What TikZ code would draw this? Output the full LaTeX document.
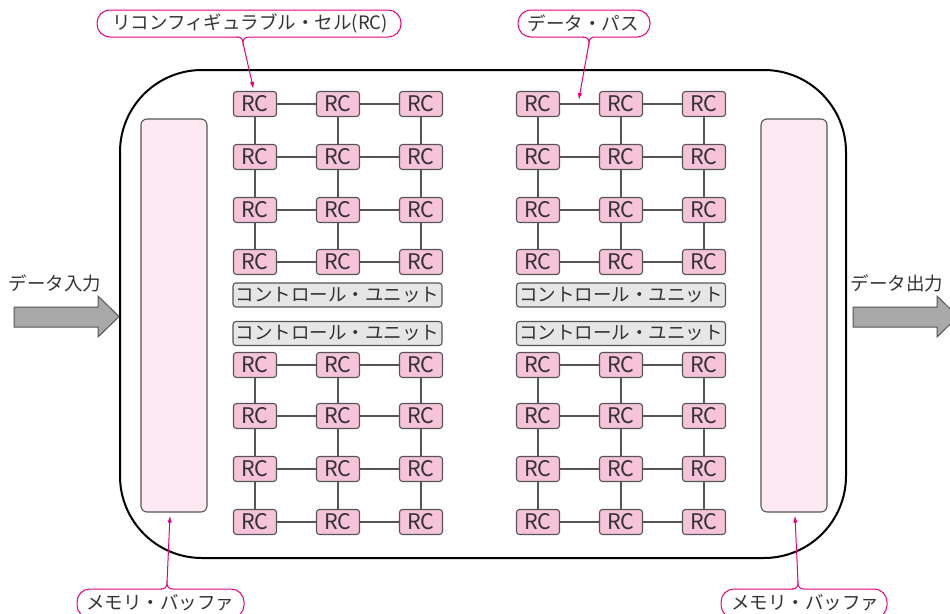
\documentclass[tikz,border=0pt]{standalone}
\usepackage{fontspec}
\setmainfont{Noto Sans CJK JP}
\usetikzlibrary{arrows.meta,calc}
\definecolor{rcfill}{HTML}{F6C3D9}
\definecolor{buffill}{HTML}{FCE9F2}
\definecolor{cufill}{HTML}{E6E6E6}
\definecolor{arrfill}{HTML}{A9A9A9}
\definecolor{edge}{HTML}{555555}
\definecolor{txt}{HTML}{333333}
\definecolor{mag}{HTML}{E5007F}
\begin{document}
\begin{tikzpicture}[x=1pt,y=-1pt,
  rc/.style={draw=edge,fill=rcfill,rounded corners=3pt,line width=1.1pt,minimum width=43pt,minimum height=25pt,inner sep=0pt,font=\fontsize{21.5}{21.5}\selectfont,text=txt},
  cu/.style={draw=edge,fill=cufill,rounded corners=3pt,line width=1.1pt,minimum width=209pt,minimum height=24pt,inner sep=0pt,font=\fontsize{18.5}{18.5}\selectfont,text=txt},
  buf/.style={draw=edge,fill=buffill,rounded corners=6pt,line width=1.1pt,minimum width=66pt,minimum height=393pt,inner sep=0pt},
  link/.style={draw=edge,line width=1.1pt},
  lbl/.style={font=\fontsize{18.5}{18.5}\selectfont,text=txt,inner sep=0pt},
  callbox/.style={draw=mag,line width=1pt,rounded corners=13pt},
  notch/.style={draw=mag,line width=1pt},
  pointer/.style={draw=mag,line width=1pt,-{Latex[length=7pt,width=4.5pt]}},
  bigarrow/.style={draw=edge,fill=arrfill,line width=1pt}
]
\useasboundingbox (0,0) rectangle (950,613);
\begin{scope}
\clip (0,0) rectangle (950,613);
% main frame
\draw[line width=2pt,rounded corners=82pt] (120,70) rectangle (846,558);
% memory buffers
\node[buf] (MB1) at (174,315.5) {};
\node[buf] (MB2) at (794,315.5) {};
% RC grids
\foreach \c/\x in {1/255,2/338,3/421}{
  \foreach \r/\y in {1/104,2/157,3/210,4/262,5/365,6/416,7/469,8/522}{
    \node[rc] (L\r\c) at (\x,\y) {RC};
  }}
\foreach \c/\x in {1/538,2/621,3/704}{
  \foreach \r/\y in {1/104,2/157,3/210,4/262,5/365,6/416,7/469,8/522}{
    \node[rc] (R\r\c) at (\x,\y) {RC};
  }}
\foreach \g in {L,R}{
  \foreach \r in {1,...,8}{
    \draw[link] (\g\r1) -- (\g\r2) -- (\g\r3);
  }
  \foreach \c in {1,2,3}{
    \draw[link] (\g1\c) -- (\g2\c) -- (\g3\c) -- (\g4\c);
    \draw[link] (\g5\c) -- (\g6\c) -- (\g7\c) -- (\g8\c);
  }
}
% control units
\node[cu] (CL1) at (337.5,295) {コントロール・ユニット};
\node[cu] (CL2) at (337.5,333.5) {コントロール・ユニット};
\node[cu] (CR1) at (621,295) {コントロール・ユニット};
\node[cu] (CR2) at (621,333.5) {コントロール・ユニット};
% big arrows
\draw[bigarrow] (14,307) -- (98,307) -- (98,296) -- (119,316.5) -- (98,337) -- (98,327) -- (14,327) -- cycle;
\draw[bigarrow] (853,307) -- (937,307) -- (937,296) -- (958,316.5) -- (937,337) -- (937,327) -- (853,327) -- cycle;
\node[lbl] (IN) at (55,283) {データ入力};
\node[lbl] (OUT) at (897,283) {データ出力};
% callout: RC
\draw[callbox] (97,10) rectangle (401,37);
\fill[white] (237.5,36) rectangle (248.5,38);
\draw[notch] (249,37) .. controls (245,37) and (243,39) .. (243,43) .. controls (243,39) and (241,37) .. (237,37);
\node[lbl] (T1) at (250,23.5) {リコンフィギュラブル・セル(RC)};
\coordinate (P1) at (243,43);
\coordinate (Q1) at ($(L11.north)+(-1.5,-2)$);
\draw[pointer] (P1) -- (Q1);
% callout: data path
\draw[callbox] (518,10) rectangle (650,37);
\fill[white] (583.5,36) rectangle (594.5,38);
\draw[notch] (595,37) .. controls (591,37) and (589,39) .. (589,43) .. controls (589,39) and (587,37) .. (583,37);
\node[lbl] (T2) at (583,23.5) {データ・パス};
\coordinate (P2) at (589,43);
\coordinate (Q2) at ($(R11.east)!0.48!(R12.west)+(0,-4)$);
\draw[pointer] (P2) -- (Q2);
% callout: memory buffer left
\draw[callbox] (77,589) rectangle (244,618);
\fill[white] (161.5,588) rectangle (172.5,590);
\draw[notch] (173,589) .. controls (169,589) and (167,587) .. (167,583) .. controls (167,587) and (165,589) .. (161,589);
\node[lbl] (T3) at (160,603) {メモリ・バッファ};
\coordinate (P3) at (167,583);
\coordinate (Q3) at ($(MB1.south)+(-4,3)$);
\draw[pointer] (P3) -- (Q3);
% callout: memory buffer right
\draw[callbox] (721,589) rectangle (887,618);
\fill[white] (792.5,588) rectangle (803.5,590);
\draw[notch] (804,589) .. controls (800,589) and (798,587) .. (798,583) .. controls (798,587) and (796,589) .. (792,589);
\node[lbl] (T4) at (805,603) {メモリ・バッファ};
\coordinate (P4) at (798,583);
\coordinate (Q4) at ($(MB2.south)+(1,3)$);
\draw[pointer] (P4) -- (Q4);
\end{scope}
\end{tikzpicture}
\end{document}
